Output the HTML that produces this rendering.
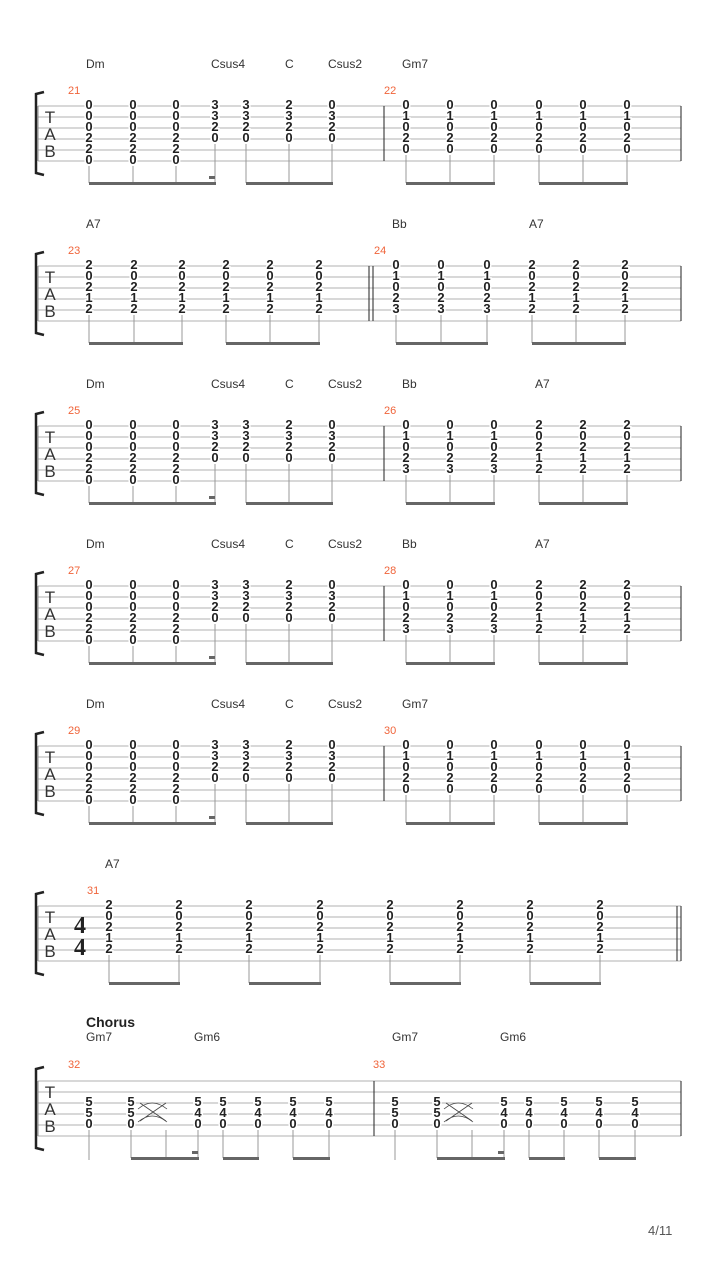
<!DOCTYPE html>
<html><head><meta charset="utf-8"><style>
body{margin:0;background:#fff}
svg{display:block}
.n{font:bold 13px "Liberation Sans",sans-serif;fill:#222;stroke:#fff;stroke-width:3px;paint-order:stroke;text-anchor:middle}
.c{font:12px "Liberation Sans",sans-serif;fill:#333}
.m{font:11px "Liberation Sans",sans-serif;fill:#f0643a}
.t{font:17px "Liberation Sans",sans-serif;fill:#333;text-anchor:middle}
.sl line{stroke:#b0b0b0;stroke-width:1}
.st{stroke:#999;stroke-width:1}
.bm{fill:#666}
</style></head><body>
<svg width="720" height="1280" viewBox="0 0 720 1280" xmlns="http://www.w3.org/2000/svg">
<defs>
<g id="staff">
<g class="sl"><line x1="38" y1="0" x2="681" y2="0"/><line x1="38" y1="11" x2="681" y2="11"/><line x1="38" y1="22" x2="681" y2="22"/><line x1="38" y1="33" x2="681" y2="33"/><line x1="38" y1="44" x2="681" y2="44"/><line x1="38" y1="55" x2="681" y2="55"/></g>
<line x1="38" y1="0" x2="38" y2="55" stroke="#888"/>
<path d="M44,-14 L36,-12 L36,67 L44,69" fill="none" stroke="#222" stroke-width="2.5"/>
<line x1="681" y1="0" x2="681" y2="55" stroke="#222"/>
<text class="t" x="50" y="17">T</text><text class="t" x="50" y="34">A</text><text class="t" x="50" y="51">B</text>
</g>
<g id="dm">
<text class="n" x="89" y="3">0<tspan x="89" dy="11">0</tspan><tspan x="89" dy="11">0</tspan><tspan x="89" dy="11">2</tspan><tspan x="89" dy="11">2</tspan><tspan x="89" dy="11">0</tspan></text>
<text class="n" x="133" y="3">0<tspan x="133" dy="11">0</tspan><tspan x="133" dy="11">0</tspan><tspan x="133" dy="11">2</tspan><tspan x="133" dy="11">2</tspan><tspan x="133" dy="11">0</tspan></text>
<text class="n" x="176" y="3">0<tspan x="176" dy="11">0</tspan><tspan x="176" dy="11">0</tspan><tspan x="176" dy="11">2</tspan><tspan x="176" dy="11">2</tspan><tspan x="176" dy="11">0</tspan></text>
<text class="n" x="215" y="3">3<tspan x="215" dy="11">3</tspan><tspan x="215" dy="11">2</tspan><tspan x="215" dy="11">0</tspan></text>
<text class="n" x="246" y="3">3<tspan x="246" dy="11">3</tspan><tspan x="246" dy="11">2</tspan><tspan x="246" dy="11">0</tspan></text>
<text class="n" x="289" y="3">2<tspan x="289" dy="11">3</tspan><tspan x="289" dy="11">2</tspan><tspan x="289" dy="11">0</tspan></text>
<text class="n" x="332" y="3">0<tspan x="332" dy="11">3</tspan><tspan x="332" dy="11">2</tspan><tspan x="332" dy="11">0</tspan></text>
<line class="st" x1="89" y1="60" x2="89" y2="77"/><line class="st" x1="133" y1="60" x2="133" y2="77"/><line class="st" x1="176" y1="60" x2="176" y2="77"/><line class="st" x1="215" y1="38" x2="215" y2="77"/>
<line class="st" x1="246" y1="38" x2="246" y2="77"/><line class="st" x1="289" y1="38" x2="289" y2="77"/><line class="st" x1="332" y1="38" x2="332" y2="77"/>
<rect class="bm" x="89" y="76" width="127" height="3"/><rect class="bm" x="209" y="70" width="6" height="3"/>
<rect class="bm" x="246" y="76" width="87" height="3"/>
<line x1="384" y1="0" x2="384" y2="55" stroke="#222"/>
</g>
<g id="gm7">
<text class="n" x="406" y="3">0<tspan x="406" dy="11">1</tspan><tspan x="406" dy="11">0</tspan><tspan x="406" dy="11">2</tspan><tspan x="406" dy="11">0</tspan></text>
<text class="n" x="450" y="3">0<tspan x="450" dy="11">1</tspan><tspan x="450" dy="11">0</tspan><tspan x="450" dy="11">2</tspan><tspan x="450" dy="11">0</tspan></text>
<text class="n" x="494" y="3">0<tspan x="494" dy="11">1</tspan><tspan x="494" dy="11">0</tspan><tspan x="494" dy="11">2</tspan><tspan x="494" dy="11">0</tspan></text>
<text class="n" x="539" y="3">0<tspan x="539" dy="11">1</tspan><tspan x="539" dy="11">0</tspan><tspan x="539" dy="11">2</tspan><tspan x="539" dy="11">0</tspan></text>
<text class="n" x="583" y="3">0<tspan x="583" dy="11">1</tspan><tspan x="583" dy="11">0</tspan><tspan x="583" dy="11">2</tspan><tspan x="583" dy="11">0</tspan></text>
<text class="n" x="627" y="3">0<tspan x="627" dy="11">1</tspan><tspan x="627" dy="11">0</tspan><tspan x="627" dy="11">2</tspan><tspan x="627" dy="11">0</tspan></text>
<line class="st" x1="406" y1="49" x2="406" y2="77"/><line class="st" x1="450" y1="49" x2="450" y2="77"/><line class="st" x1="494" y1="49" x2="494" y2="77"/>
<line class="st" x1="539" y1="49" x2="539" y2="77"/><line class="st" x1="583" y1="49" x2="583" y2="77"/><line class="st" x1="627" y1="49" x2="627" y2="77"/>
<rect class="bm" x="406" y="76" width="89" height="3"/><rect class="bm" x="539" y="76" width="89" height="3"/>
</g>
<g id="bba">
<text class="n" x="406" y="3">0<tspan x="406" dy="11">1</tspan><tspan x="406" dy="11">0</tspan><tspan x="406" dy="11">2</tspan><tspan x="406" dy="11">3</tspan></text>
<text class="n" x="450" y="3">0<tspan x="450" dy="11">1</tspan><tspan x="450" dy="11">0</tspan><tspan x="450" dy="11">2</tspan><tspan x="450" dy="11">3</tspan></text>
<text class="n" x="494" y="3">0<tspan x="494" dy="11">1</tspan><tspan x="494" dy="11">0</tspan><tspan x="494" dy="11">2</tspan><tspan x="494" dy="11">3</tspan></text>
<text class="n" x="539" y="3">2<tspan x="539" dy="11">0</tspan><tspan x="539" dy="11">2</tspan><tspan x="539" dy="11">1</tspan><tspan x="539" dy="11">2</tspan></text>
<text class="n" x="583" y="3">2<tspan x="583" dy="11">0</tspan><tspan x="583" dy="11">2</tspan><tspan x="583" dy="11">1</tspan><tspan x="583" dy="11">2</tspan></text>
<text class="n" x="627" y="3">2<tspan x="627" dy="11">0</tspan><tspan x="627" dy="11">2</tspan><tspan x="627" dy="11">1</tspan><tspan x="627" dy="11">2</tspan></text>
<line class="st" x1="406" y1="49" x2="406" y2="77"/><line class="st" x1="450" y1="49" x2="450" y2="77"/><line class="st" x1="494" y1="49" x2="494" y2="77"/>
<line class="st" x1="539" y1="49" x2="539" y2="77"/><line class="st" x1="583" y1="49" x2="583" y2="77"/><line class="st" x1="627" y1="49" x2="627" y2="77"/>
<rect class="bm" x="406" y="76" width="89" height="3"/><rect class="bm" x="539" y="76" width="89" height="3"/>
</g>
</defs>

<!-- System 1 -->
<text class="c" x="86" y="68">Dm</text><text class="c" x="211" y="68">Csus4</text><text class="c" x="285" y="68">C</text><text class="c" x="328" y="68">Csus2</text><text class="c" x="402" y="68">Gm7</text>
<text class="m" x="68" y="94">21</text><text class="m" x="384" y="94">22</text>
<g transform="translate(0,106)"><use href="#staff"/><use href="#dm"/><use href="#gm7"/></g>

<!-- System 2 -->
<text class="c" x="86" y="228">A7</text><text class="c" x="392" y="228">Bb</text><text class="c" x="529" y="228">A7</text>
<text class="m" x="68" y="254">23</text><text class="m" x="374" y="254">24</text>
<g transform="translate(0,266)"><use href="#staff"/>
<text class="n" x="89" y="3">2<tspan x="89" dy="11">0</tspan><tspan x="89" dy="11">2</tspan><tspan x="89" dy="11">1</tspan><tspan x="89" dy="11">2</tspan></text>
<text class="n" x="134" y="3">2<tspan x="134" dy="11">0</tspan><tspan x="134" dy="11">2</tspan><tspan x="134" dy="11">1</tspan><tspan x="134" dy="11">2</tspan></text>
<text class="n" x="182" y="3">2<tspan x="182" dy="11">0</tspan><tspan x="182" dy="11">2</tspan><tspan x="182" dy="11">1</tspan><tspan x="182" dy="11">2</tspan></text>
<text class="n" x="226" y="3">2<tspan x="226" dy="11">0</tspan><tspan x="226" dy="11">2</tspan><tspan x="226" dy="11">1</tspan><tspan x="226" dy="11">2</tspan></text>
<text class="n" x="270" y="3">2<tspan x="270" dy="11">0</tspan><tspan x="270" dy="11">2</tspan><tspan x="270" dy="11">1</tspan><tspan x="270" dy="11">2</tspan></text>
<text class="n" x="319" y="3">2<tspan x="319" dy="11">0</tspan><tspan x="319" dy="11">2</tspan><tspan x="319" dy="11">1</tspan><tspan x="319" dy="11">2</tspan></text>
<line class="st" x1="89" y1="49" x2="89" y2="77"/><line class="st" x1="134" y1="49" x2="134" y2="77"/><line class="st" x1="182" y1="49" x2="182" y2="77"/>
<line class="st" x1="226" y1="49" x2="226" y2="77"/><line class="st" x1="270" y1="49" x2="270" y2="77"/><line class="st" x1="319" y1="49" x2="319" y2="77"/>
<rect class="bm" x="89" y="76" width="94" height="3"/><rect class="bm" x="226" y="76" width="94" height="3"/>
<line x1="369" y1="0" x2="369" y2="55" stroke="#222"/><line x1="373" y1="0" x2="373" y2="55" stroke="#222"/>
<g transform="translate(-10,0)">
<text class="n" x="406" y="3">0<tspan x="406" dy="11">1</tspan><tspan x="406" dy="11">0</tspan><tspan x="406" dy="11">2</tspan><tspan x="406" dy="11">3</tspan></text>
<text class="n" x="451" y="3">0<tspan x="451" dy="11">1</tspan><tspan x="451" dy="11">0</tspan><tspan x="451" dy="11">2</tspan><tspan x="451" dy="11">3</tspan></text>
<text class="n" x="497" y="3">0<tspan x="497" dy="11">1</tspan><tspan x="497" dy="11">0</tspan><tspan x="497" dy="11">2</tspan><tspan x="497" dy="11">3</tspan></text>
<text class="n" x="542" y="3">2<tspan x="542" dy="11">0</tspan><tspan x="542" dy="11">2</tspan><tspan x="542" dy="11">1</tspan><tspan x="542" dy="11">2</tspan></text>
<text class="n" x="586" y="3">2<tspan x="586" dy="11">0</tspan><tspan x="586" dy="11">2</tspan><tspan x="586" dy="11">1</tspan><tspan x="586" dy="11">2</tspan></text>
<text class="n" x="635" y="3">2<tspan x="635" dy="11">0</tspan><tspan x="635" dy="11">2</tspan><tspan x="635" dy="11">1</tspan><tspan x="635" dy="11">2</tspan></text>
<line class="st" x1="406" y1="49" x2="406" y2="77"/><line class="st" x1="451" y1="49" x2="451" y2="77"/><line class="st" x1="497" y1="49" x2="497" y2="77"/>
<line class="st" x1="542" y1="49" x2="542" y2="77"/><line class="st" x1="586" y1="49" x2="586" y2="77"/><line class="st" x1="635" y1="49" x2="635" y2="77"/>
<rect class="bm" x="406" y="76" width="92" height="3"/><rect class="bm" x="542" y="76" width="94" height="3"/>
</g>
</g>

<!-- System 3 -->
<text class="c" x="86" y="388">Dm</text><text class="c" x="211" y="388">Csus4</text><text class="c" x="285" y="388">C</text><text class="c" x="328" y="388">Csus2</text><text class="c" x="402" y="388">Bb</text><text class="c" x="535" y="388">A7</text>
<text class="m" x="68" y="414">25</text><text class="m" x="384" y="414">26</text>
<g transform="translate(0,426)"><use href="#staff"/><use href="#dm"/><use href="#bba"/></g>

<!-- System 4 -->
<text class="c" x="86" y="548">Dm</text><text class="c" x="211" y="548">Csus4</text><text class="c" x="285" y="548">C</text><text class="c" x="328" y="548">Csus2</text><text class="c" x="402" y="548">Bb</text><text class="c" x="535" y="548">A7</text>
<text class="m" x="68" y="574">27</text><text class="m" x="384" y="574">28</text>
<g transform="translate(0,586)"><use href="#staff"/><use href="#dm"/><use href="#bba"/></g>

<!-- System 5 -->
<text class="c" x="86" y="708">Dm</text><text class="c" x="211" y="708">Csus4</text><text class="c" x="285" y="708">C</text><text class="c" x="328" y="708">Csus2</text><text class="c" x="402" y="708">Gm7</text>
<text class="m" x="68" y="734">29</text><text class="m" x="384" y="734">30</text>
<g transform="translate(0,746)"><use href="#staff"/><use href="#dm"/><use href="#gm7"/></g>

<!-- System 6 -->
<text class="c" x="105" y="868">A7</text>
<text class="m" x="87" y="894">31</text>
<g transform="translate(0,906)"><use href="#staff"/>
<text x="80" y="27" style="font:bold 24px 'Liberation Serif',serif;fill:#222" text-anchor="middle">4</text>
<text x="80" y="49" style="font:bold 24px 'Liberation Serif',serif;fill:#222" text-anchor="middle">4</text>
<text class="n" x="109" y="3">2<tspan x="109" dy="11">0</tspan><tspan x="109" dy="11">2</tspan><tspan x="109" dy="11">1</tspan><tspan x="109" dy="11">2</tspan></text>
<text class="n" x="179" y="3">2<tspan x="179" dy="11">0</tspan><tspan x="179" dy="11">2</tspan><tspan x="179" dy="11">1</tspan><tspan x="179" dy="11">2</tspan></text>
<text class="n" x="249" y="3">2<tspan x="249" dy="11">0</tspan><tspan x="249" dy="11">2</tspan><tspan x="249" dy="11">1</tspan><tspan x="249" dy="11">2</tspan></text>
<text class="n" x="320" y="3">2<tspan x="320" dy="11">0</tspan><tspan x="320" dy="11">2</tspan><tspan x="320" dy="11">1</tspan><tspan x="320" dy="11">2</tspan></text>
<text class="n" x="390" y="3">2<tspan x="390" dy="11">0</tspan><tspan x="390" dy="11">2</tspan><tspan x="390" dy="11">1</tspan><tspan x="390" dy="11">2</tspan></text>
<text class="n" x="460" y="3">2<tspan x="460" dy="11">0</tspan><tspan x="460" dy="11">2</tspan><tspan x="460" dy="11">1</tspan><tspan x="460" dy="11">2</tspan></text>
<text class="n" x="530" y="3">2<tspan x="530" dy="11">0</tspan><tspan x="530" dy="11">2</tspan><tspan x="530" dy="11">1</tspan><tspan x="530" dy="11">2</tspan></text>
<text class="n" x="600" y="3">2<tspan x="600" dy="11">0</tspan><tspan x="600" dy="11">2</tspan><tspan x="600" dy="11">1</tspan><tspan x="600" dy="11">2</tspan></text>
<line class="st" x1="109" y1="49" x2="109" y2="77"/><line class="st" x1="179" y1="49" x2="179" y2="77"/><line class="st" x1="249" y1="49" x2="249" y2="77"/><line class="st" x1="320" y1="49" x2="320" y2="77"/>
<line class="st" x1="390" y1="49" x2="390" y2="77"/><line class="st" x1="460" y1="49" x2="460" y2="77"/><line class="st" x1="530" y1="49" x2="530" y2="77"/><line class="st" x1="600" y1="49" x2="600" y2="77"/>
<rect class="bm" x="109" y="76" width="71" height="3"/><rect class="bm" x="249" y="76" width="72" height="3"/><rect class="bm" x="390" y="76" width="71" height="3"/><rect class="bm" x="530" y="76" width="71" height="3"/>
<line x1="677" y1="0" x2="677" y2="55" stroke="#222"/>
</g>

<!-- System 7 -->
<text x="86" y="1027" style="font:bold 14px 'Liberation Sans',sans-serif;fill:#222">Chorus</text>
<text class="c" x="86" y="1041">Gm7</text><text class="c" x="194" y="1041">Gm6</text><text class="c" x="392" y="1041">Gm7</text><text class="c" x="500" y="1041">Gm6</text>
<text class="m" x="68" y="1068">32</text><text class="m" x="373" y="1068">33</text>
<g transform="translate(0,1081)"><use href="#staff"/>
<line x1="374" y1="0" x2="374" y2="55" stroke="#222"/>
<g id="ch">
<text class="n" x="89" y="25">5<tspan x="89" dy="11">5</tspan><tspan x="89" dy="11">0</tspan></text>
<text class="n" x="131" y="25">5<tspan x="131" dy="11">5</tspan><tspan x="131" dy="11">0</tspan></text>
<path d="M138,28 Q152,16 167,28 M138,41 Q152,29 167,41 M140,22 L166,40 M140,40 L166,22" fill="none" stroke="#444" stroke-width="0.8"/>
<text class="n" x="198" y="25">5<tspan x="198" dy="11">4</tspan><tspan x="198" dy="11">0</tspan></text>
<text class="n" x="223" y="25">5<tspan x="223" dy="11">4</tspan><tspan x="223" dy="11">0</tspan></text>
<text class="n" x="258" y="25">5<tspan x="258" dy="11">4</tspan><tspan x="258" dy="11">0</tspan></text>
<text class="n" x="293" y="25">5<tspan x="293" dy="11">4</tspan><tspan x="293" dy="11">0</tspan></text>
<text class="n" x="329" y="25">5<tspan x="329" dy="11">4</tspan><tspan x="329" dy="11">0</tspan></text>
<line class="st" x1="89" y1="49" x2="89" y2="79"/><line class="st" x1="131" y1="49" x2="131" y2="77"/><line class="st" x1="166" y1="49" x2="166" y2="77"/><line class="st" x1="198" y1="49" x2="198" y2="77"/>
<line class="st" x1="223" y1="49" x2="223" y2="77"/><line class="st" x1="258" y1="49" x2="258" y2="77"/><line class="st" x1="293" y1="49" x2="293" y2="77"/><line class="st" x1="329" y1="49" x2="329" y2="77"/>
<rect class="bm" x="131" y="76" width="68" height="3"/><rect class="bm" x="192" y="70" width="6" height="3"/>
<rect class="bm" x="223" y="76" width="36" height="3"/><rect class="bm" x="293" y="76" width="37" height="3"/>
</g>
<use href="#ch" transform="translate(306,0)"/>
</g>

<text x="648" y="1235" style="font:13px 'Liberation Sans',sans-serif;fill:#555">4/11</text>
</svg>
</body></html>
